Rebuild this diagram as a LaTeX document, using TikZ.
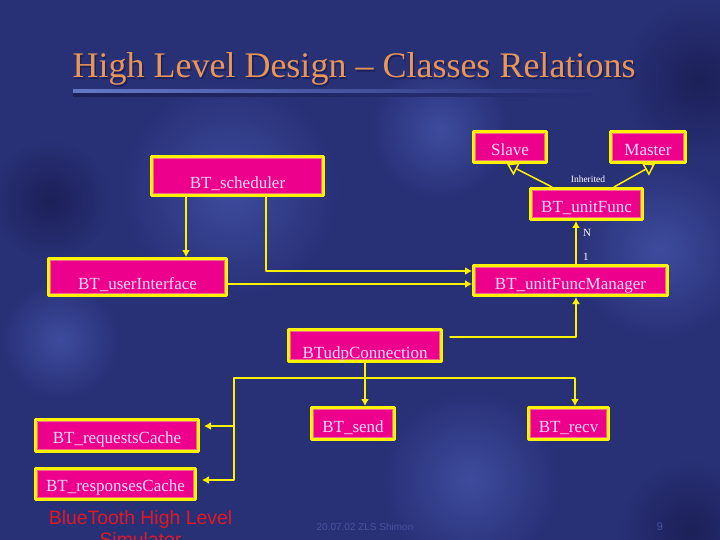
\documentclass[tikz,border=0pt]{standalone}
\usepackage{fontspec}
\setmainfont{Liberation Serif}
\newfontfamily\arialfont{Liberation Sans}
\usetikzlibrary{calc,arrows.meta,positioning}

\definecolor{bg}{RGB}{40,48,118}
\definecolor{bglight}{RGB}{62,76,158}
\definecolor{bgdark}{RGB}{28,32,88}
\definecolor{titleorange}{RGB}{232,150,88}
\definecolor{barblue}{RGB}{100,120,200}
\definecolor{clstext}{RGB}{246,218,246}
\definecolor{clsedge}{RGB}{236,110,140}
\definecolor{simred}{RGB}{226,24,36}
\definecolor{footblue}{RGB}{72,84,158}

\begin{document}
\begin{tikzpicture}[x=1pt, y=-1pt, line join=round, line cap=round,
    cls/.style={draw=yellow, line width=3pt, fill=magenta, text=clstext,
      font=\fontsize{17}{18}\selectfont, inner xsep=0pt, inner ysep=0pt},
    link/.style={draw=yellow, line width=1.5pt, -{Latex[length=7pt,width=8pt]}},
    inh/.style={draw=yellow, line width=1.5pt, -{Triangle[open,length=11pt,width=14pt]}},
    small/.style={text=white, font=\fontsize{11}{12}\selectfont, inner sep=0pt}]
  % background
  \useasboundingbox (0,0) rectangle (720,540);
  \fill[bg] (0,0) rectangle (720,540);
  \shade[inner color=bglight, outer color=bg] (230,190) circle (110pt);
  \shade[inner color=bglight, outer color=bg] (440,130) circle (70pt);
  \shade[inner color=bglight, outer color=bg] (660,250) circle (90pt);
  \shade[inner color=bglight, outer color=bg] (470,480) circle (90pt);
  \shade[inner color=bglight, outer color=bg] (60,340) circle (60pt);
  \shade[inner color=bgdark, outer color=bg] (50,200) circle (60pt);
  \shade[inner color=bgdark, outer color=bg] (700,80) circle (80pt);
  \shade[inner color=bgdark, outer color=bg] (690,530) circle (70pt);

  % title
  \node[anchor=base, text=bgdark, font=\fontsize{36}{40}\selectfont] (titleshadow) at (355.5,79.5) {High Level Design -- Classes Relations};
  \node[anchor=base, text=titleorange, font=\fontsize{36}{40}\selectfont] (title) at (354,78) {High Level Design -- Classes Relations};
  \shade[left color=barblue, right color=bg] (73,90) rectangle (600,94);
  \shade[left color=bgdark, right color=bg] (73,94) rectangle (600,97);

  % classes
  \node[cls, minimum width=73pt, text height=24.5pt, text depth=6.5pt] (slave) at (510,147) {Slave};
  \node[cls, minimum width=75pt, text height=24.5pt, text depth=6.5pt] (master) at (648,147) {Master};
  \node[cls, minimum width=112pt, text height=24.5pt, text depth=6.5pt] (func) at (586.5,204) {BT\_unitFunc};
  \node[cls, minimum width=194pt, text height=23.5pt, text depth=6.5pt] (mgr) at (570.5,280.5) {BT\_unitFuncManager};
  \node[cls, minimum width=172pt, text height=32.5pt, text depth=6.5pt] (sched) at (237.5,176) {BT\_scheduler};
  \node[cls, minimum width=178pt, text height=30.5pt, text depth=6.5pt] (ui) at (137.5,277) {BT\_userInterface};
  \node[cls, minimum width=153pt, text height=28.5pt, text depth=3.5pt] (udp) at (365,345.5) {BTudpConnection};
  \node[cls, minimum width=83pt, text height=24.5pt, text depth=7.5pt] (send) at (353,423.5) {BT\_send};
  \node[cls, minimum width=80pt, text height=24.5pt, text depth=7.5pt] (recv) at (568.5,423.5) {BT\_recv};
  \node[cls, minimum width=163pt, text height=23.5pt, text depth=8.5pt] (req) at (117,435.5) {BT\_requestsCache};
  \node[cls, minimum width=160pt, text height=22.5pt, text depth=8.5pt] (resp) at (115.5,484) {BT\_responsesCache};
  \foreach \n in {slave,master,func,mgr,sched,ui,udp,send,recv,req,resp}
    \draw[clsedge, line width=0.6pt] ([shift={(3.3pt,-3.3pt)}]\n.north west) rectangle ([shift={(-3.3pt,3.3pt)}]\n.south east);

  % inheritance
  \draw[inh] ([xshift=-34.5pt]func.north) -- ([xshift=-3pt]slave.south);
  \draw[inh] ([xshift=27.5pt]func.north) -- ([xshift=7pt]master.south);
  \node[small, font=\fontsize{9.5}{11}\selectfont] (inhlbl) at (588,179) {Inherited};

  % relations
  \draw[link] ([xshift=5.5pt]mgr.north) -- ([xshift=-10.5pt]func.south);
  \node[small, anchor=west] (nlbl) at (583,233) {N};
  \node[small, anchor=west] (onelbl) at (583,257) {1};
  \draw[link] ([xshift=-51.5pt]sched.south) -- ([xshift=48.5pt]ui.north);
  \draw[link] ([xshift=28.5pt]sched.south) |- ([yshift=9.5pt]mgr.west);
  \draw[link] ([yshift=-7pt]ui.east) coordinate (uiout) -- (uiout -| mgr.west);
  \draw[link] ([xshift=7pt,yshift=8.5pt]udp.east) -| ([xshift=5.5pt]mgr.south);
  \draw[link] (udp.south) -- (udp.south |- send.north);
  \coordinate (bus) at (234,378);
  \draw[link] (bus) -| ([xshift=6.5pt]recv.north);
  \draw[link] (bus) |- ([xshift=5pt,yshift=4pt]resp.east);
  \coordinate (reqin) at ([xshift=4pt,yshift=9.5pt]req.east);
  \draw[link] (reqin -| bus) -- (reqin);

  % footer
  \node[anchor=base, text=simred, font=\arialfont\fontsize{19.4}{22}\selectfont] (simlbl) at (140.5,524) {BlueTooth High Level};
  \node[anchor=base, text=simred, font=\arialfont\fontsize{19.4}{22}\selectfont] (simlbl2) at (140.5,546) {Simulator};
  \node[text=footblue, font=\arialfont\fontsize{10}{12}\selectfont] (footlbl) at (365,527) {20.07.02 ZLS Shimon};
  \node[text=footblue, font=\arialfont\fontsize{11}{12}\selectfont] (pgnum) at (660,527) {9};
\end{tikzpicture}
\end{document}
